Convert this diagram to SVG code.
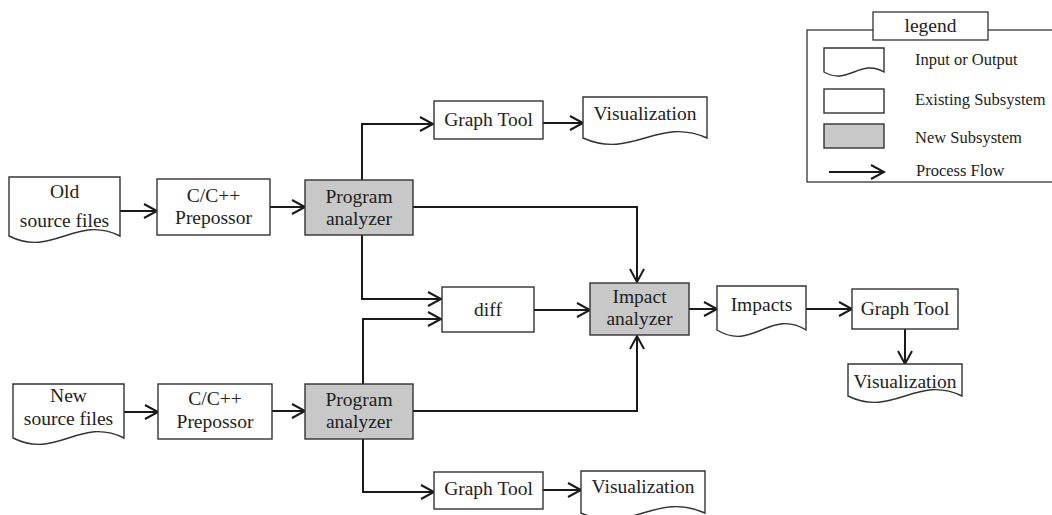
<svg xmlns="http://www.w3.org/2000/svg" width="1052" height="515" viewBox="0 0 1052 515">
<defs>
<marker id="arr" markerUnits="userSpaceOnUse" markerWidth="20" markerHeight="20" viewBox="-15 -10 17 20" refX="0" refY="0" orient="auto">
<path d="M-13,-7 L0,0 L-13,7" fill="none" stroke="#1a1a1a" stroke-width="2"/>
</marker>
<style>
.box{fill:#fff;stroke:#333;stroke-width:1.4}
.new{fill:#c8c8c8;stroke:#333;stroke-width:1.4}
.doc{fill:#fff;stroke:#333;stroke-width:1.4}
.t{font-family:"Liberation Serif","Times New Roman",serif;font-size:19.5px;fill:#222;text-anchor:middle}
.lt{font-family:"Liberation Serif","Times New Roman",serif;font-size:16.5px;fill:#222}
.c{fill:none;stroke:#1a1a1a;stroke-width:2;marker-end:url(#arr)}
</style>
</defs>
<rect width="1052" height="515" fill="#fff"/>

<g id="legend">
<rect x="807" y="30" width="260" height="152" fill="#fff" stroke="#333" stroke-width="1.3"/>
<rect x="873" y="12" width="115" height="28" fill="#fff" stroke="#333" stroke-width="1.3"/>
<text class="t" x="930.5" y="32">legend</text>
<path class="doc" d="M824,48 H884 V72 C860,58 848,86 824,72 Z"/>
<text class="lt" x="915" y="65">Input or Output</text>
<rect class="box" x="824" y="89" width="60" height="24"/>
<text class="lt" x="915" y="105">Existing Subsystem</text>
<rect class="new" x="824" y="124" width="60" height="24"/>
<text class="lt" x="915" y="143">New Subsystem</text>
<path class="c" d="M829,172 H884"/>
<text class="lt" x="916" y="176">Process Flow</text>
</g>

<g id="connectors">
<path class="c" d="M120,211 H157"/>
<path class="c" d="M270,207 H305"/>
<path class="c" d="M362,180 V124 H433"/>
<path class="c" d="M543,123 H583"/>
<path class="c" d="M413,207 H637 V282"/>
<path class="c" d="M362,235 V299 H441"/>
<path class="c" d="M534,310 H590"/>
<path class="c" d="M689,309 H717"/>
<path class="c" d="M806,309 H852"/>
<path class="c" d="M905,329 V364"/>
<path class="c" d="M124,412 H158"/>
<path class="c" d="M272,411 H305"/>
<path class="c" d="M363,384 V319 H441"/>
<path class="c" d="M413,411 H637 V336"/>
<path class="c" d="M363,439 V492 H434"/>
<path class="c" d="M543,490 H581"/>
</g>

<g id="old-source">
<path class="doc" d="M9,177 H120 V236 C75.6,214 53.4,258 9,236 Z"/>
<text class="t" x="64.5" y="198">Old</text>
<text class="t" x="64.5" y="227">source files</text>
</g>
<g id="prep-top">
<rect class="box" x="157" y="179" width="113" height="56"/>
<text class="t" x="213.5" y="202">C/C++</text>
<text class="t" x="213.5" y="224">Prepossor</text>
</g>
<g id="prog-top">
<rect class="new" x="305" y="180" width="108" height="55"/>
<text class="t" x="359" y="203">Program</text>
<text class="t" x="359" y="225">analyzer</text>
</g>
<g id="graph-top">
<rect class="box" x="434" y="101" width="109" height="38"/>
<text class="t" x="488.5" y="126">Graph Tool</text>
</g>
<g id="vis-top">
<path class="doc" d="M583,97 H707 V138 C657.4,116 632.6,160 583,138 Z"/>
<text class="t" x="645" y="120">Visualization</text>
</g>
<g id="diff">
<rect class="box" x="442" y="287" width="92" height="45"/>
<text class="t" x="488" y="316">diff</text>
</g>
<g id="impact">
<rect class="new" x="590" y="283" width="99" height="52"/>
<text class="t" x="639.5" y="303">Impact</text>
<text class="t" x="639.5" y="325">analyzer</text>
</g>
<g id="impacts">
<path class="doc" d="M717,286 H806 V330 C770.4,308 752.6,352 717,330 Z"/>
<text class="t" x="761.5" y="311">Impacts</text>
</g>
<g id="graph-right">
<rect class="box" x="852" y="289" width="106" height="40"/>
<text class="t" x="905" y="315">Graph Tool</text>
</g>
<g id="vis-right">
<path class="doc" d="M848,364 H962 V396 C916.4,374 893.6,418 848,396 Z"/>
<text class="t" x="905" y="388">Visualization</text>
</g>
<g id="new-source">
<path class="doc" d="M13,384 H124 V438 C79.6,416 57.4,460 13,438 Z"/>
<text class="t" x="68.5" y="402">New</text>
<text class="t" x="68.5" y="425">source files</text>
</g>
<g id="prep-bottom">
<rect class="box" x="158" y="384" width="114" height="55"/>
<text class="t" x="215" y="405">C/C++</text>
<text class="t" x="215" y="428">Prepossor</text>
</g>
<g id="prog-bottom">
<rect class="new" x="305" y="384" width="108" height="55"/>
<text class="t" x="359" y="406">Program</text>
<text class="t" x="359" y="428">analyzer</text>
</g>
<g id="graph-bottom">
<rect class="box" x="434" y="472" width="109" height="37"/>
<text class="t" x="488.5" y="495">Graph Tool</text>
</g>
<g id="vis-bottom">
<path class="doc" d="M581,471 H705 V513 C655.4,491 630.6,535 581,513 Z"/>
<text class="t" x="643" y="493">Visualization</text>
</g>
</svg>
